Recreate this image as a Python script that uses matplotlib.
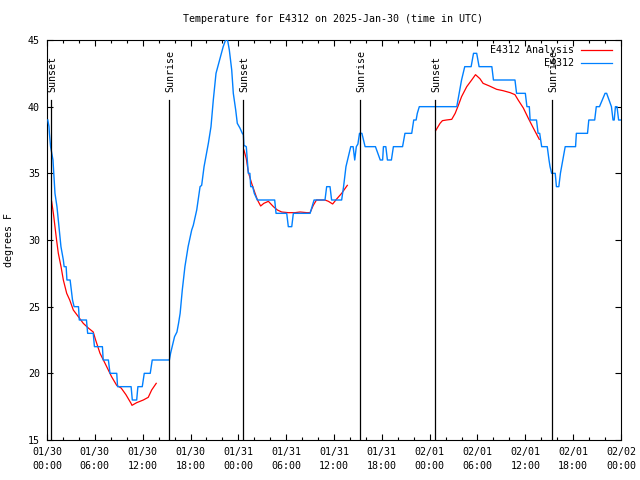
import matplotlib
matplotlib.use("Agg")
import matplotlib.pyplot as plt

plt.rcParams['font.family'] = ['DejaVu Sans Mono']
plt.rcParams['font.size'] = 7.2

# observed temperature (hours since 2025-01-30 00:00 UTC, degrees F)
obs_h = [0.10, 0.25, 0.3, 0.45, 0.6, 0.75, 0.85, 1.0, 1.25, 1.5, 1.75, 2.05, 2.15, 2.4, 2.5, 2.9,
         3.0, 3.2, 3.4, 3.95, 4.05, 4.95, 5.1, 5.8, 5.95, 6.95, 7.05, 7.7, 7.9, 8.75, 8.85, 10.55,
         10.7, 11.25, 11.4, 11.95, 12.2, 12.95, 13.2, 15.35, 15.5, 15.7, 16.0, 16.3, 16.5, 16.7,
         16.97, 17.3, 17.7, 18.15, 18.35, 18.78, 19.2, 19.4, 19.7, 20.24, 20.57, 20.86, 21.2, 21.7,
         22.1, 22.4, 22.65, 22.87, 23.17, 23.37, 23.67, 23.87, 24.2, 24.5, 24.63, 24.7, 25.0, 25.1,
         25.25, 25.45, 25.55, 25.8, 26.0, 26.38, 28.56, 28.73, 30.07, 30.27, 30.7, 30.9, 33.0, 33.5,
         34.87, 35.08, 35.5, 35.7, 36.96, 37.2, 37.5, 37.7, 38.1, 38.4, 38.6, 38.8, 39.0, 39.2,
         39.5, 39.9, 41.2, 41.8, 42.1, 42.2, 42.5, 42.7, 43.2, 43.45, 44.6, 44.9, 45.75, 46.0,
         46.3, 46.45, 46.7, 51.4, 51.7, 52.0, 52.4, 53.2, 53.5, 53.9, 54.2, 55.8, 56.0, 58.7,
         58.9, 60.0, 60.2, 60.5, 60.6, 61.4, 61.6, 61.8, 62.05, 62.75, 62.97, 63.1, 63.3, 63.75,
         63.9, 64.2, 64.4, 64.7, 65.0, 66.3, 66.4, 67.8, 67.96, 68.7, 68.9, 69.3, 70.0, 70.2,
         70.5, 70.8, 71.0, 71.15, 71.3, 71.5, 71.7, 72.0]
obs_t = [39, 38.5, 38, 37, 36.5, 36, 35, 33.5, 32.5, 31, 29.5, 28.5, 28, 28, 27, 27,
         26.5, 25.5, 25, 25, 24, 24, 23, 23, 22, 22, 21, 21, 20, 20, 19, 19,
         18, 18, 19, 19, 20, 20, 21, 21, 21.5, 22, 22.75, 23.1, 23.75, 24.5,
         26.25, 28, 29.5, 30.75, 31.1, 32.25, 34, 34.1, 35.5, 37.25, 38.5, 40.5, 42.5, 43.6,
         44.5, 45, 45, 44.25, 42.75, 41, 39.75, 38.75, 38.4, 38, 37.9, 37.1, 37, 36.2,
         35, 35, 34, 34, 33.5, 33, 33, 32, 32, 31, 31, 32, 32, 33,
         33, 34, 34, 33, 33, 34, 35.5, 36, 37, 37, 36, 37, 37.2, 38,
         38, 37, 37, 36, 36, 37, 37, 36, 36, 37, 37, 38, 38, 39,
         39, 39.5, 40, 40, 41, 42, 43, 43, 44, 44, 43, 43, 42, 42,
         41, 41, 40, 40, 39, 39, 38, 38, 37, 37, 36, 35.5, 35, 35,
         34, 34, 35, 36, 37, 37, 38, 38, 39, 39, 40, 40, 41, 41,
         40.5, 40, 39, 39, 40, 40, 39, 39]

# analysis, three separate runs
ana1_h = [0.58, 0.8, 1.0, 1.2, 1.42, 1.76, 2.05, 2.47, 2.85, 3.3, 3.93, 4.55, 5.18, 5.8, 6.1,
          6.65, 7.28, 8.1, 8.74, 9.3, 9.9, 10.54, 10.66, 11.25, 12.08, 12.7, 13.13, 13.7]
ana1_t = [32.9, 32, 31, 30, 29, 28, 27, 26, 25.5, 24.75, 24.25, 23.75, 23.4, 23.1, 22.5,
          21.5, 20.75, 19.75, 19.1, 18.9, 18.4, 17.75, 17.6, 17.8, 18.0, 18.2, 18.75, 19.25]
ana2_h = [24.7, 25.0, 25.25, 25.67, 26.1, 26.4, 26.8, 27.2, 27.77, 28.4, 28.9, 29.44, 30.27,
          31.1, 31.74, 32.6, 33.0, 33.4, 33.8, 34.87, 35.3, 35.83, 36.3, 36.96, 37.67]
ana2_t = [36.75, 36.1, 35.1, 34.25, 33.5, 33, 32.55, 32.75, 32.9, 32.5, 32.25, 32.1, 32.05,
          32.05, 32.1, 32.05, 32.05, 32.6, 33, 33, 32.9, 32.7, 33.05, 33.5, 34.1]
ana3_h = [48.75, 49.3, 49.6, 50.1, 50.77, 51.2, 51.6, 52.0, 52.65, 53.27, 53.75, 54.3, 54.7,
          55.5, 56.4, 57.2, 58.1, 58.7, 59.1, 59.75, 60.4, 61.0, 61.75]
ana3_t = [38.2, 38.75, 38.95, 39, 39.05, 39.5, 40.1, 40.75, 41.5, 42, 42.4, 42.1, 41.75,
          41.55, 41.3, 41.2, 41.05, 40.9, 40.5, 39.9, 39.1, 38.4, 37.55]

events_h = [0.54, 15.34, 24.63, 39.3, 48.71, 63.38]
events = ["Sunset", "Sunrise", "Sunset", "Sunrise", "Sunset", "Sunrise"]

tick_h = list(range(0, 73, 6))
tick_lbl = ["01/30\n00:00", "01/30\n06:00", "01/30\n12:00", "01/30\n18:00",
            "01/31\n00:00", "01/31\n06:00", "01/31\n12:00", "01/31\n18:00",
            "02/01\n00:00", "02/01\n06:00", "02/01\n12:00", "02/01\n18:00",
            "02/02\n00:00"]

red = "#ff0000"
blue = "#0080ff"

fig = plt.figure(figsize=(6.4, 4.8), dpi=100)
ax = fig.add_axes([47/640, 40/480, 574/640, 400/480])

for hh, tt in [(ana1_h, ana1_t), (ana2_h, ana2_t), (ana3_h, ana3_t)]:
    ax.plot(hh, tt, color=red, lw=0.9, zorder=2)
ax.plot(obs_h, obs_t, color=blue, lw=1.0, zorder=3)

for h, name in zip(events_h, events):
    ax.plot([h, h], [15, 40.5], color="black", lw=0.9, zorder=4)
    ax.text(h + 0.15, 41.1, name, rotation=90, ha="center", va="bottom", zorder=5)

ax.set_xlim(0, 72)
ax.set_ylim(15, 45)
ax.set_xticks(tick_h)
ax.set_xticklabels(tick_lbl, linespacing=1.5)
ax.set_xticks(range(0, 73, 2), minor=True)
ax.set_yticks(range(15, 46, 5))
ax.tick_params(which="both", direction="in", top=True, right=True, width=0.8)
ax.tick_params(which="major", length=4.5)
ax.tick_params(which="minor", length=2.5)
ax.tick_params(axis="x", pad=5)
ax.tick_params(axis="y", pad=5)
for s in ax.spines.values():
    s.set_linewidth(0.8)

ax.set_ylabel("degrees F", labelpad=10)
fig.text(333/640, 1 - 19/480, "Temperature for E4312 on 2025-Jan-30 (time in UTC)",
         ha="center", va="center")

# key, gnuplot style: right-aligned text then line sample
ax.text(0.918, 0.975, "E4312 Analysis", transform=ax.transAxes, ha="right", va="center", zorder=6)
ax.text(0.918, 0.942, "E4312", transform=ax.transAxes, ha="right", va="center", zorder=6)
ax.plot([0.93, 0.985], [0.975, 0.975], transform=ax.transAxes, color=red, lw=0.9)
ax.plot([0.93, 0.985], [0.942, 0.942], transform=ax.transAxes, color=blue, lw=0.9)

fig.savefig("out.png", dpi=100)
